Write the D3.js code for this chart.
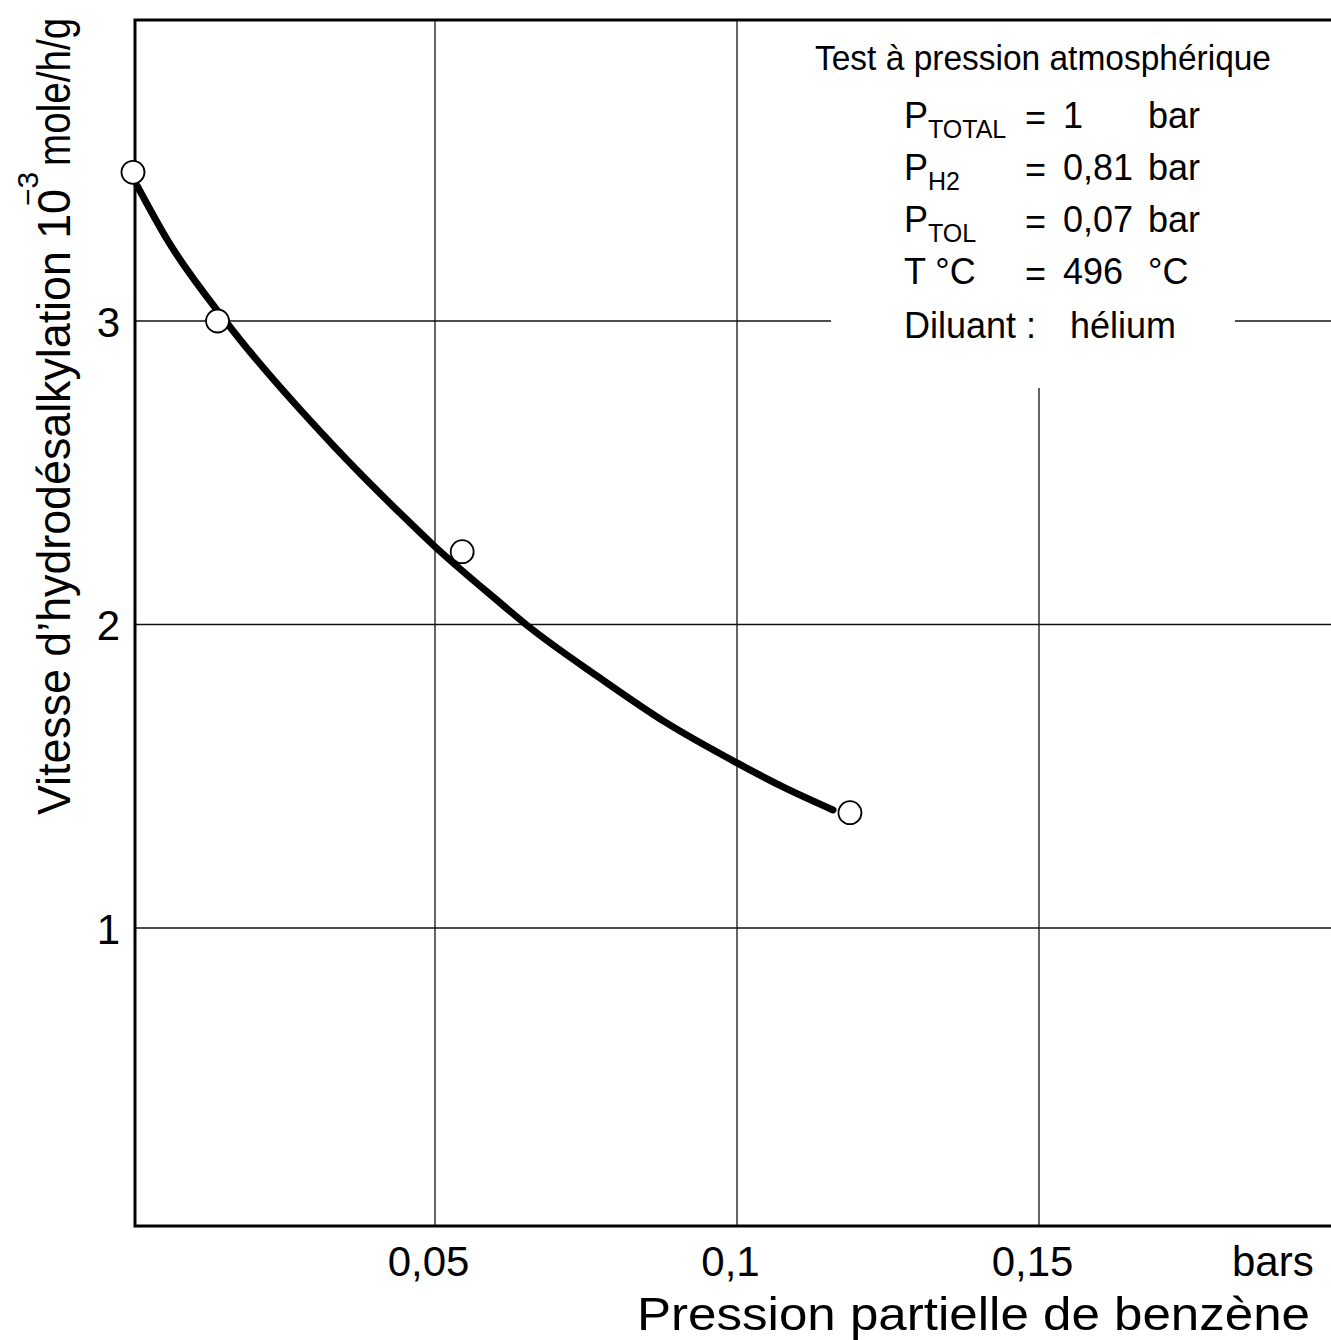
<!DOCTYPE html>
<html><head><meta charset="utf-8">
<script src="https://cdn.jsdelivr.net/npm/d3@7"></script>
<style>
body{margin:0;background:#fff}
svg{display:block}
text{font-family:"Liberation Sans",Arial,sans-serif;fill:#000}
</style>
</head><body>
<svg id="c" width="1331" height="1340"></svg>
<script>
// ---- data ----
const xTicks = [0.05, 0.1, 0.15];
const xTickLabels = ["0,05", "0,1", "0,15"];
const yTicks = [1, 2, 3];
const yTickLabels = ["1", "2", "3"];
const pointX = [0, 0.014, 0.0545, 0.1187];
const pointY = [3.49, 3.0, 2.24, 1.38];
const curveX = [0.0007,0.0056,0.0157,0.0331,0.0442,0.0497,0.0608,0.0652,0.0773,0.0884,0.1000,0.1076,0.1159];
const curveY = [3.445,3.27,2.99,2.591,2.367,2.262,2.071,1.998,1.824,1.675,1.544,1.465,1.389];
const headerText = "Test à pression atmosphérique";
const paramNames = ["P", "P", "P", "T °C"];
const paramSubs = ["TOTAL", "H2", "TOL", ""];
const paramValues = ["1", "0,81", "0,07", "496"];
const paramUnits = ["bar", "bar", "bar", "°C"];
const diluentLabel = "Diluant :";
const diluentValue = "hélium";
const xTitle = "Pression partielle de benzène";
const xUnit = "bars";
const yTitleMain = "Vitesse d’hydrodésalkylation 10";
const yTitleExp = "−3";
const yTitleUnit = "mole/h/g";

// ---- scales ----
const svg = d3.select("#c");
const x = d3.scaleLinear().domain([0, 0.2]).range([133, 1341]);
const y = d3.scaleLinear().domain([0, 4]).range([1231.5, 17.5]);
const pLeft = 135, pRight = 1331, pTop = 20, pBottom = 1226;

// ---- grid ----
const grid = svg.append("g").attr("stroke", "#111").attr("stroke-width", 1.3);
const vStart = [pTop, pTop, 388];
xTicks.forEach((t, i) => {
  grid.append("line").attr("x1", x(t)).attr("x2", x(t)).attr("y1", vStart[i]).attr("y2", pBottom);
});
yTicks.forEach(t => {
  const segs = t === 3 ? [[pLeft, 831], [1235, pRight]] : [[pLeft, pRight]];
  segs.forEach(s => grid.append("line").attr("x1", s[0]).attr("x2", s[1]).attr("y1", y(t)).attr("y2", y(t)));
});

// ---- frame ----
const frame = svg.append("g").attr("stroke", "#000").attr("stroke-width", 3).attr("fill", "none");
frame.append("path").attr("d", `M${pRight},${pTop}H${pLeft}V${pBottom}H${pRight}`);

// ---- axes labels via d3 axis ----
const xAxis = svg.append("g").attr("transform", `translate(-7,${pBottom})`)
  .call(d3.axisBottom(x).tickValues(xTicks).tickFormat((d, i) => xTickLabels[i]).tickSize(0).tickPadding(0));
xAxis.select(".domain").remove();
xAxis.selectAll("text").attr("font-size", 42).attr("dy", null).attr("y", 50)
  .style("font-family", '"Liberation Sans",Arial,sans-serif');

const yAxis = svg.append("g").attr("transform", `translate(120,0)`)
  .call(d3.axisLeft(y).tickValues(yTicks).tickFormat((d, i) => yTickLabels[i]).tickSize(0).tickPadding(0));
yAxis.select(".domain").remove();
yAxis.selectAll("text").attr("font-size", 42).attr("dy", "0.36em")
  .style("font-family", '"Liberation Sans",Arial,sans-serif');

svg.append("text").attr("x", 1232).attr("y", pBottom + 50).attr("font-size", 42).text(xUnit);
svg.append("text").attr("x", 637).attr("y", 1330).attr("font-size", 46)
  .attr("textLength", 673).attr("lengthAdjust", "spacingAndGlyphs").text(xTitle);

// y title (rotated)
svg.append("text").attr("transform", "translate(70,815) rotate(-90)").attr("font-size", 46)
  .attr("textLength", 626).attr("lengthAdjust", "spacingAndGlyphs").text(yTitleMain);
svg.append("text").attr("transform", "translate(38,206) rotate(-90)").attr("font-size", 30)
  .text(yTitleExp);
svg.append("text").attr("transform", "translate(70,166) rotate(-90) scale(0.84,1)").attr("font-size", 46)
  .text(yTitleUnit);

// ---- legend ----
const lg = svg.append("g");
lg.append("text").attr("x", 815).attr("y", 70).attr("font-size", 35)
  .attr("textLength", 456).attr("lengthAdjust", "spacingAndGlyphs").text(headerText);
const rowBase = [128, 180, 232, 284];
paramNames.forEach((n, i) => {
  const t = lg.append("text").attr("x", 904).attr("y", rowBase[i]).attr("font-size", 36);
  t.append("tspan").text(n);
  if (paramSubs[i]) t.append("tspan").attr("dy", 10).attr("font-size", 25).text(paramSubs[i]);
  lg.append("text").attr("x", 1025).attr("y", rowBase[i] + 2).attr("font-size", 36).text("=");
  lg.append("text").attr("x", 1063).attr("y", rowBase[i]).attr("font-size", 36).text(paramValues[i]);
  lg.append("text").attr("x", 1148).attr("y", rowBase[i]).attr("font-size", 36).text(paramUnits[i]);
});
lg.append("text").attr("x", 904).attr("y", 338).attr("font-size", 36).text(diluentLabel);
lg.append("text").attr("x", 1070).attr("y", 338).attr("font-size", 36).text(diluentValue);

// ---- curve ----
const curvePts = curveX.map((v, i) => [v, curveY[i]]);
svg.append("path").datum(curvePts)
  .attr("fill", "none").attr("stroke", "#000").attr("stroke-width", 7).attr("stroke-linecap", "round")
  .attr("d", d3.line().x(d => x(d[0])).y(d => y(d[1])).curve(d3.curveMonotoneX));

// ---- points ----
svg.append("g").selectAll("circle").data(pointX.map((v, i) => [v, pointY[i]])).join("circle")
  .attr("cx", d => x(d[0])).attr("cy", d => y(d[1])).attr("r", 11.5)
  .attr("fill", "#fff").attr("stroke", "#000").attr("stroke-width", 1.8);
</script>
</body></html>
